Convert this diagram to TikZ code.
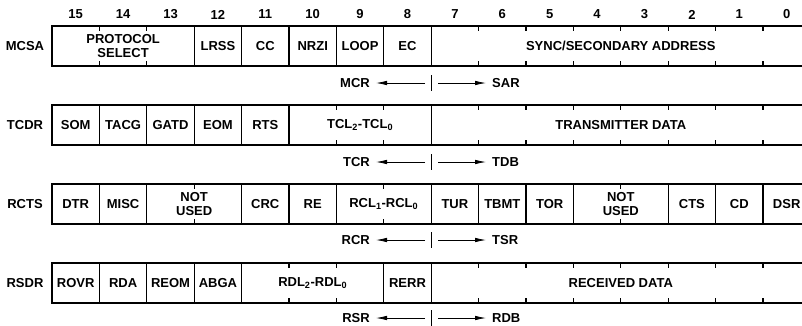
\documentclass[tikz,border=0pt]{standalone}
\usepackage{fontspec}
\setmainfont{Liberation Sans}
\usetikzlibrary{arrows.meta}
\newcommand\fieldat[5]{\node[field, minimum width={(#3-#2)*47.4pt}] (#1) at ({52+23.7*(#2+#3)}, {#4+20}) {#5};}
\newcommand\tickat[2]{\draw[tickline] ({52+47.4*#1},#2) -- ++(0,5); \draw[tickline] ({52+47.4*#1},{#2+40}) -- ++(0,-5);}
\newcommand\arrowrow[4]{%
  \coordinate (#1bt) at (431.2,{#2-8});
  \coordinate (#1bb) at (431.2,{#2+8});
  \draw[barline] (#1bt) -- (#1bb);
  \node[lbl, anchor=east] (#1l) at (371,#2) {#3};
  \node[lbl, anchor=west] (#1r) at (491,#2) {#4};
  \coordinate (#1ls) at (425,#2);
  \coordinate (#1rs) at (438,#2);
  \draw[arr] (#1ls) -- (#1l.east);
  \draw[arr] (#1rs) -- (#1r.west);
}
\begin{document}
\begin{tikzpicture}[x=1pt,y=-1pt,
  field/.style={draw, line width=1.2pt, minimum height=40pt, inner sep=0pt, align=center, font=\bfseries\fontsize{13}{14.5}\selectfont},
  lbl/.style={font=\bfseries\fontsize{13}{14.5}\selectfont, inner sep=1pt},
  tickline/.style={line width=1.2pt},
  barline/.style={line width=0.8pt},
  arr/.style={line width=0.8pt, shorten >=5pt, -{Latex[length=11pt,width=4.5pt]}},
]
\clip (0,0) rectangle (802,325);
% bit numbers
\foreach \i in {0,...,15} {
  \pgfmathtruncatemacro\bitno{15-\i}
  \node[lbl] (bit\bitno) at ({52+47.4*(\i+0.5)},14.5) {\bitno};
}
% row labels
\node[lbl] (lmcsa) at (25,46) {MCSA};
\node[lbl] (ltcdr) at (25,125) {TCDR};
\node[lbl] (lrcts) at (25,204) {RCTS};
\node[lbl] (lrsdr) at (25,283) {RSDR};
% MCSA
\fieldat{mprot}{0}{3}{26}{PROTOCOL\\SELECT}
\tickat{1}{26}\tickat{2}{26}
\fieldat{mlrss}{3}{4}{26}{LRSS}
\fieldat{mcc}{4}{5}{26}{CC}
\fieldat{mnrzi}{5}{6}{26}{NRZI}
\fieldat{mloop}{6}{7}{26}{LOOP}
\fieldat{mec}{7}{8}{26}{EC}
\fieldat{msync}{8}{16}{26}{SYNC/SECONDARY ADDRESS}
\foreach \k in {9,...,15} {\tickat{\k}{26}}
\arrowrow{m}{83}{MCR}{SAR}
% TCDR
\fieldat{tsom}{0}{1}{105}{SOM}
\fieldat{ttacg}{1}{2}{105}{TACG}
\fieldat{tgatd}{2}{3}{105}{GATD}
\fieldat{teom}{3}{4}{105}{EOM}
\fieldat{trts}{4}{5}{105}{RTS}
\fieldat{ttcl}{5}{8}{105}{TCL\textsubscript{2}-TCL\textsubscript{0}}
\tickat{6}{105}\tickat{7}{105}
\fieldat{tdata}{8}{16}{105}{TRANSMITTER DATA}
\foreach \k in {9,...,15} {\tickat{\k}{105}}
\arrowrow{t}{162}{TCR}{TDB}
% RCTS
\fieldat{rdtr}{0}{1}{184}{DTR}
\fieldat{rmisc}{1}{2}{184}{MISC}
\fieldat{rnu1}{2}{4}{184}{NOT\\USED}
\tickat{3}{184}
\fieldat{rcrc}{4}{5}{184}{CRC}
\fieldat{rre}{5}{6}{184}{RE}
\fieldat{rrcl}{6}{8}{184}{RCL\textsubscript{1}-RCL\textsubscript{0}}
\tickat{7}{184}
\fieldat{rtur}{8}{9}{184}{TUR}
\fieldat{rtbmt}{9}{10}{184}{TBMT}
\fieldat{rtor}{10}{11}{184}{TOR}
\fieldat{rnu2}{11}{13}{184}{NOT\\USED}
\tickat{12}{184}
\fieldat{rcts}{13}{14}{184}{CTS}
\fieldat{rcd}{14}{15}{184}{CD}
\fieldat{rdsr}{15}{16}{184}{DSR}
\arrowrow{r}{240}{RCR}{TSR}
% RSDR
\fieldat{sovr}{0}{1}{263}{ROVR}
\fieldat{srda}{1}{2}{263}{RDA}
\fieldat{sreom}{2}{3}{263}{REOM}
\fieldat{sabga}{3}{4}{263}{ABGA}
\fieldat{srdl}{4}{7}{263}{RDL\textsubscript{2}-RDL\textsubscript{0}}
\tickat{5}{263}\tickat{6}{263}
\fieldat{srerr}{7}{8}{263}{RERR}
\fieldat{sdata}{8}{16}{263}{RECEIVED DATA}
\foreach \k in {9,...,15} {\tickat{\k}{263}}
\arrowrow{s}{318}{RSR}{RDB}
\end{tikzpicture}
\end{document}
